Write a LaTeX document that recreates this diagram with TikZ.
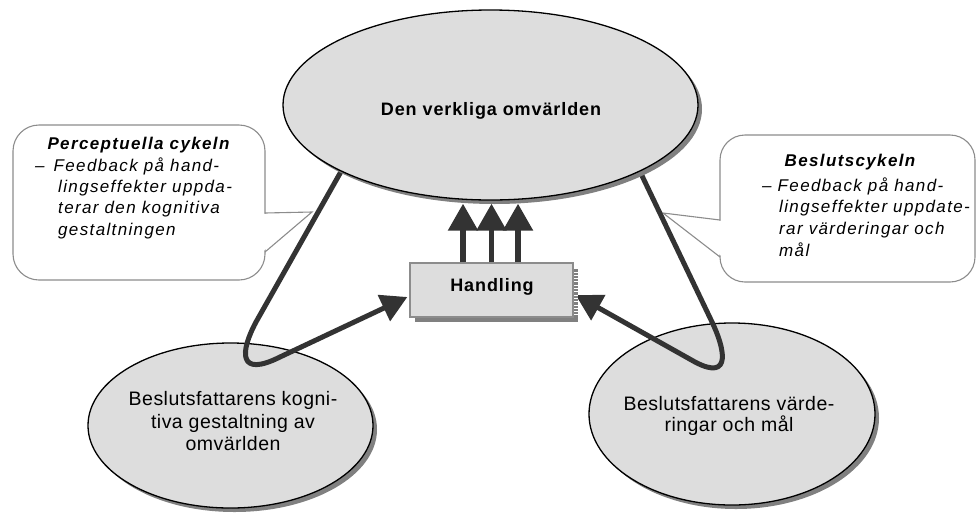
\documentclass[tikz,border=0pt]{standalone}
\usepackage{fontspec}
\setmainfont{Liberation Sans}
\newfontfamily\coFont[LetterSpace=8]{Liberation Sans}
\newfontfamily\hdFont[LetterSpace=5]{Liberation Sans}
\newfontfamily\elFont[LetterSpace=2.5]{Liberation Sans}
\usetikzlibrary{arrows.meta,shapes.geometric,shadows}

\definecolor{bubble}{HTML}{DDDDDD}
\definecolor{shade}{HTML}{808080}
\definecolor{ink}{HTML}{333333}
\definecolor{rim}{HTML}{8C8C8C}

\pgfdeclarelayer{back}
\pgfdeclarelayer{mid}
\pgfsetlayers{back,mid,main}

\begin{document}
\begin{tikzpicture}[x=1pt,y=-1pt,
  blob/.style={ellipse, draw=black, line width=1.3pt, fill=bubble, inner sep=0pt,
    drop shadow={shadow xshift=4pt, shadow yshift=-4pt, fill=shade, opacity=1}},
  actbox/.style={rectangle, draw=rim, line width=1.3pt, fill=bubble, inner sep=0pt,
    minimum width=163pt, minimum height=54pt,
    drop shadow={shadow xshift=5pt, shadow yshift=-5pt, fill=shade, opacity=1}},
  bubblebox/.style={rectangle, draw=rim, line width=1.1pt, fill=white, inner sep=0pt},
  pointer/.style={draw=rim, line width=1.1pt, line join=miter},
  heavy/.style={draw=ink, line width=5pt, line join=round,
    -{Triangle[width=28pt,length=26pt]}},
  upflow/.style={draw=ink, line width=5.5pt,
    -{Triangle[width=29pt,length=27pt]}},
  cotitle/.style={anchor=base, inner sep=0pt,
    font=\coFont\fontsize{17}{20}\selectfont\bfseries\itshape},
  cobody/.style={anchor=base west, inner sep=0pt,
    font=\coFont\fontsize{17}{20}\selectfont\itshape},
  eltext/.style={anchor=base, inner sep=0pt,
    font=\elFont\fontsize{19.5}{23}\selectfont},
  hdtext/.style={anchor=base, inner sep=0pt,
    font=\hdFont\fontsize{18}{21}\selectfont\bfseries}]

\useasboundingbox (0,0) rectangle (976,517);

% ---- speech bubbles -------------------------------------------------
\begin{pgfonlayer}{back}
  \node[bubblebox, rounded corners=26pt, minimum width=252pt, minimum height=155pt]
    (pcbox) at (139,202.5) {};
  \fill[white] (263.5,214) -- (312,212) -- (263.5,251) -- cycle;
  \draw[pointer] (265,213) -- (312,212) -- (265,252);

  \node[bubblebox, rounded corners=25pt, minimum width=255pt, minimum height=147pt]
    (dcbox) at (847.5,208.5) {};
  \fill[white] (721.5,221) -- (663,213) -- (721.5,256) -- cycle;
  \draw[pointer] (720,220) -- (663,213) -- (720,257);

  % lower ellipses
  \node[blob, minimum width=285pt, minimum height=165pt] (cog) at (230.5,425.5) {};
  \node[blob, minimum width=286pt, minimum height=182pt] (val) at (732,414) {};
\end{pgfonlayer}

% text of the bubbles
\node[cotitle] (pcT) at (138.5,149) {Perceptuella cykeln};
\node[cobody]  (pc1) at (35,171.5)  {–\hspace{9pt}Feedback på hand-};
\node[cobody]  (pc2) at (58,192.5)  {lingseffekter uppda-};
\node[cobody]  (pc3) at (58,213.5)  {terar den kognitiva};
\node[cobody]  (pc4) at (58,235)    {gestaltningen};

\node[cotitle] (dcT) at (850,166)   {Beslutscykeln};
\node[cobody]  (dc1) at (762,191)   {– Feedback på hand-};
\node[cobody]  (dc2) at (779,212.5) {lingseffekter uppdate-};
\node[cobody]  (dc3) at (779,234)   {rar värderingar och};
\node[cobody]  (dc4) at (779,256)   {mål};

% text of the lower ellipses
\node[eltext] (cogA) at (233,405.5) {Beslutsfattarens kogni-};
\node[eltext] (cogB) at (233,428.3) {tiva gestaltning av};
\node[eltext] (cogC) at (233,450.7) {omvärlden};
\node[eltext] (valA) at (729,410)   {Beslutsfattarens värde-};
\node[eltext] (valB) at (729,431.7) {ringar och mål};

% ---- top ellipse and action box ------------------------------------
\node[blob, minimum width=415pt, minimum height=190pt] (world) at (490.5,105) {};
\node[hdtext] (worldT) at (491,115) {Den verkliga omvärlden};

\node[actbox] (hand) at (491.5,290) {};
\foreach \k in {0,...,14}
  \draw[white, line width=0.6pt] (574,{268.5+3.3*\k}) -- (578,{268.5+3.3*\k});
\node[hdtext] (handT) at (492,291) {Handling};

% ---- feedback loops (under the top ellipse, over the lower ones) ----
\begin{pgfonlayer}{mid}
  \draw[heavy] (world.204) -- (256,322)
    .. controls (240,352) and (238,378) .. (280,357)
    -- ([xshift=-2pt,yshift=-7pt]hand.west);
  \draw[heavy] (world.336.5) -- (712,322)
    .. controls (724,347) and (733,382) .. (695,362)
    -- ([xshift=2pt,yshift=-5pt]hand.east);
\end{pgfonlayer}

% ---- action arrows into the world ----------------------------------
\draw[upflow] ([xshift=-28.5pt]hand.north) -- ([xshift=-27.5pt,yshift=-3pt]world.south);
\draw[upflow] ([xshift=0pt]hand.north)     -- ([xshift=1pt,yshift=-3pt]world.south);
\draw[upflow] ([xshift=26.5pt]hand.north)  -- ([xshift=27.5pt,yshift=-3pt]world.south);

\end{tikzpicture}
\end{document}
